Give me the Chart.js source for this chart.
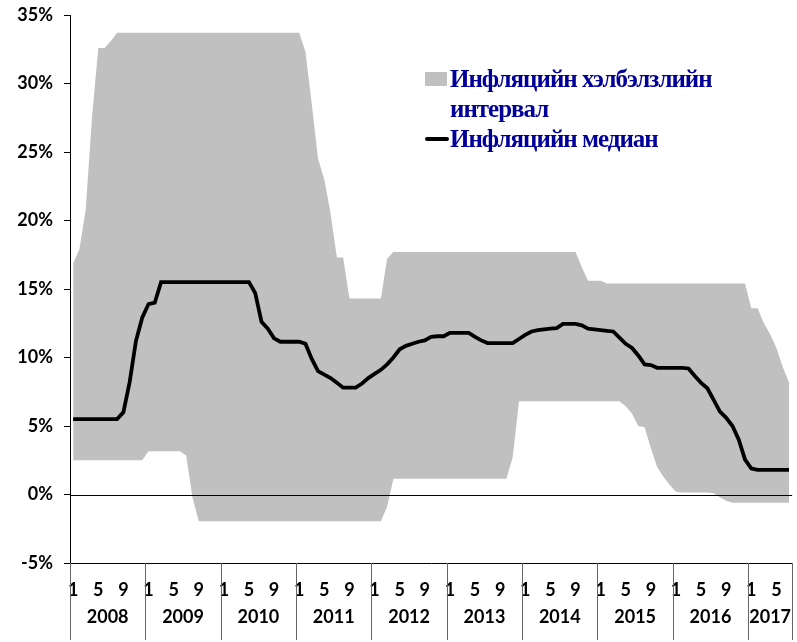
<!DOCTYPE html>
<html>
<head>
<meta charset="utf-8">
<script src="https://cdn.jsdelivr.net/npm/chart.js@4.4.0/dist/chart.umd.min.js"></script>
<style>
  html, body { margin: 0; padding: 0; background: #fff; }
  #wrap { position: relative; width: 797px; height: 642px; }
  #legend {
    position: absolute; left: 425px; top: 64px;
    font: bold 25px "Liberation Serif", serif; color: #000099;
    line-height: 30px; white-space: nowrap; letter-spacing: -1px;
  }
  .item { position: relative; padding-left: 25px; }
  .box { position: absolute; left: 0; top: 8px; width: 22px; height: 14px; background: #c0c0c0; }
  .line { position: absolute; left: 0; top: 13px; width: 24px; height: 4px; background: #000; border-radius: 2px; }
</style>
</head>
<body>
<div id="wrap">
  <canvas id="chart" width="797" height="642"></canvas>
  <div id="legend">
    <div class="item"><span class="box"></span>Инфляцийн хэлбэлзлийн<br>интервал</div>
    <div class="item"><span class="line"></span>Инфляцийн медиан</div>
  </div>
</div>
<script>
const years = [2008, 2009, 2010, 2011, 2012, 2013, 2014, 2015, 2016, 2017];
const lastYearMonths = 7;
const shownMonths = [1, 5, 9];

// upper edge of the band, %
const bandHigh = [
  16.9, 17.9, 20.8, 27.5, 32.6, 32.6, 33.1, 33.7, 33.7, 33.7, 33.7, 33.7,
  33.7, 33.7, 33.7, 33.7, 33.7, 33.7, 33.7, 33.7, 33.7, 33.7, 33.7, 33.7,
  33.7, 33.7, 33.7, 33.7, 33.7, 33.7, 33.7, 33.7, 33.7, 33.7, 33.7, 33.7,
  33.7, 32.3, 28.5, 24.5, 23.0, 20.5, 17.3, 17.3, 14.3, 14.3, 14.3, 14.3,
  14.3, 14.3, 17.2, 17.7, 17.7, 17.7, 17.7, 17.7, 17.7, 17.7, 17.7, 17.7,
  17.7, 17.7, 17.7, 17.7, 17.7, 17.7, 17.7, 17.7, 17.7, 17.7, 17.7, 17.7,
  17.7, 17.7, 17.7, 17.7, 17.7, 17.7, 17.7, 17.7, 17.7, 16.6, 15.6, 15.6,
  15.6, 15.4, 15.4, 15.4, 15.4, 15.4, 15.4, 15.4, 15.4, 15.4, 15.4, 15.4,
  15.4, 15.4, 15.4, 15.4, 15.4, 15.4, 15.4, 15.4, 15.4, 15.4, 15.4, 15.4,
  13.6, 13.6, 12.5, 11.7, 10.7, 9.3, 8.2
];

// lower edge of the band, %
const bandLow = [
  2.5, 2.5, 2.5, 2.5, 2.5, 2.5, 2.5, 2.5, 2.5, 2.5, 2.5, 2.5,
  3.15, 3.15, 3.15, 3.15, 3.15, 3.15, 2.85, -0.2, -1.95, -1.95, -1.95, -1.95,
  -1.95, -1.95, -1.95, -1.95, -1.95, -1.95, -1.95, -1.95, -1.95, -1.95, -1.95, -1.95,
  -1.95, -1.95, -1.95, -1.95, -1.95, -1.95, -1.95, -1.95, -1.95, -1.95, -1.95, -1.95,
  -1.95, -1.95, -0.9, 1.15, 1.15, 1.15, 1.15, 1.15, 1.15, 1.15, 1.15, 1.15,
  1.15, 1.15, 1.15, 1.15, 1.15, 1.15, 1.15, 1.15, 1.15, 1.15, 2.7, 6.8,
  6.8, 6.8, 6.8, 6.8, 6.8, 6.8, 6.8, 6.8, 6.8, 6.8, 6.8, 6.8,
  6.8, 6.8, 6.8, 6.8, 6.45, 5.9, 5.0, 4.9, 3.4, 2.0, 1.3, 0.7,
  0.2, 0.15, 0.15, 0.15, 0.15, 0.15, 0.1, -0.2, -0.45, -0.6, -0.6, -0.6,
  -0.6, -0.6, -0.6, -0.6, -0.6, -0.6, -0.6
];

// median, %
const median = [
  5.5, 5.5, 5.5, 5.5, 5.5, 5.5, 5.5, 5.5, 6.0, 8.2, 11.2, 12.9,
  13.9, 14.0, 15.5, 15.5, 15.5, 15.5, 15.5, 15.5, 15.5, 15.5, 15.5, 15.5,
  15.5, 15.5, 15.5, 15.5, 15.5, 14.7, 12.6, 12.1, 11.4, 11.15, 11.15, 11.15,
  11.15, 11.0, 9.9, 9.0, 8.75, 8.5, 8.15, 7.8, 7.8, 7.8, 8.1, 8.5,
  8.8, 9.1, 9.5, 10.0, 10.6, 10.85, 11.0, 11.15, 11.25, 11.5, 11.55, 11.55,
  11.8, 11.8, 11.8, 11.8, 11.5, 11.25, 11.05, 11.05, 11.05, 11.05, 11.05, 11.35,
  11.65, 11.9, 12.0, 12.05, 12.1, 12.15, 12.45, 12.45, 12.45, 12.35, 12.1, 12.05,
  12.0, 11.95, 11.9, 11.45, 11.0, 10.7, 10.15, 9.5, 9.45, 9.25, 9.25, 9.25,
  9.25, 9.25, 9.2, 8.65, 8.15, 7.75, 6.9, 6.05, 5.6, 5.0, 4.0, 2.55,
  1.9, 1.8, 1.8, 1.8, 1.8, 1.8, 1.8
];

// category labels: one per month
const labels = [];
const monthNums = [];
years.forEach((yr, k) => {
  const n = k === years.length - 1 ? lastYearMonths : 12;
  for (let m = 1; m <= n; m++) {
    labels.push(yr + '-' + m);
    monthNums.push(m);
  }
});

const tickFont = { family: 'Lato', size: 18, weight: 'bold' };

// zero line on top of the band, plus year separators and year labels under the axis
const yearAxis = {
  id: 'yearAxis',
  afterDatasetsDraw(chart) {
    const { ctx, chartArea, scales: { y } } = chart;
    const y0 = Math.round(y.getPixelForValue(0)) + 0.5;
    ctx.save();
    ctx.strokeStyle = '#000';
    ctx.lineWidth = 1;
    ctx.beginPath();
    ctx.moveTo(chartArea.left, y0);
    ctx.lineTo(chartArea.right, y0);
    ctx.stroke();
    ctx.restore();
  },
  afterDraw(chart) {
    const { ctx, chartArea, scales: { x } } = chart;
    const half = (x.getPixelForValue(1) - x.getPixelForValue(0)) / 2;
    ctx.save();
    ctx.strokeStyle = '#666';
    ctx.lineWidth = 1;
    ctx.fillStyle = '#000';
    ctx.font = 'bold 18px Lato';
    ctx.textAlign = 'center';
    ctx.textBaseline = 'middle';
    let start = 0;
    let x1 = 0;
    years.forEach((yr, k) => {
      const n = k === years.length - 1 ? lastYearMonths : 12;
      const x0 = x.getPixelForValue(start) - half;
      x1 = x.getPixelForValue(start + n - 1) + half;
      ctx.beginPath();
      ctx.moveTo(Math.round(x0) + 0.5, chartArea.bottom);
      ctx.lineTo(Math.round(x0) + 0.5, 640);
      ctx.stroke();
      ctx.fillText(String(yr), (x0 + x1) / 2, 617);
      start += n;
    });
    ctx.beginPath();
    ctx.moveTo(Math.round(x1) + 0.5, chartArea.bottom);
    ctx.lineTo(Math.round(x1) + 0.5, 640);
    ctx.stroke();
    ctx.restore();
  }
};

new Chart(document.getElementById('chart').getContext('2d'), {
  type: 'line',
  data: {
    labels,
    datasets: [
      {
        label: 'Инфляцийн медиан',
        data: median,
        borderColor: '#000',
        borderWidth: 3.8,
        pointRadius: 0,
        tension: 0,
        fill: false
      },
      {
        label: 'low',
        data: bandLow,
        borderWidth: 0,
        borderColor: 'rgba(0,0,0,0)',
        pointRadius: 0,
        tension: 0,
        fill: false
      },
      {
        label: 'Инфляцийн хэлбэлзлийн интервал',
        data: bandHigh,
        borderWidth: 0,
        borderColor: 'rgba(0,0,0,0)',
        backgroundColor: '#c0c0c0',
        pointRadius: 0,
        tension: 0,
        fill: '-1'
      }
    ]
  },
  options: {
    responsive: false,
    animation: false,
    devicePixelRatio: 1,
    layout: { padding: { top: 15, right: 1, left: 0, bottom: 0 } },
    plugins: { legend: { display: false }, tooltip: { enabled: false } },
    scales: {
      x: {
        type: 'category',
        offset: true,
        grid: { display: false },
        border: { display: true, color: '#000', width: 1 },
        ticks: {
          autoSkip: false,
          maxRotation: 0,
          padding: 8,
          color: '#000',
          font: tickFont,
          callback: (v, i) => shownMonths.includes(monthNums[i]) ? String(monthNums[i]) : ''
        },
        afterFit: s => { s.height = 79; }
      },
      y: {
        min: -5,
        max: 35,
        grid: { display: true, drawOnChartArea: false, drawTicks: true, tickLength: 6, color: '#000' },
        border: { display: true, color: '#000', width: 1 },
        ticks: {
          stepSize: 5,
          padding: 11,
          color: '#000',
          font: tickFont,
          callback: v => v + '%'
        },
        afterFit: s => { s.width = 70; s.paddingTop = 0; s.paddingBottom = 0; }
      }
    }
  },
  plugins: [yearAxis]
});
</script>
</body>
</html>
